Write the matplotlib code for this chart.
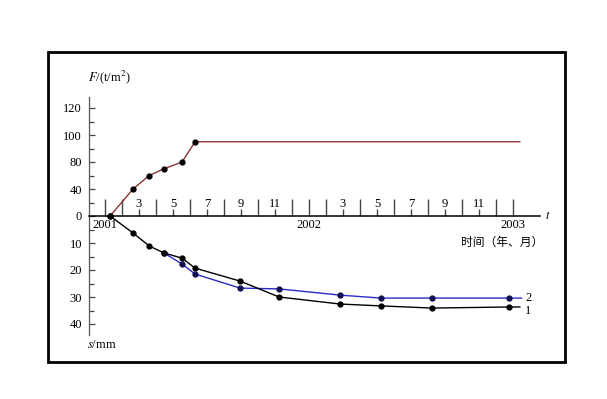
import numpy as np
import matplotlib
matplotlib.use('Agg')
import matplotlib.pyplot as plt
from matplotlib.patches import Rectangle

plt.rcParams['font.family'] = ['Liberation Serif', 'DejaVu Sans']
plt.rcParams['mathtext.fontset'] = 'stix'

# months counted from Jan 2001 (0 = Jan 2001, 12 = Jan 2002, 24 = Jan 2003)
# load F (t/m2)
f_month = [0.3, 1.65, 2.6, 3.47, 4.53, 5.3, 24.4]
f_load = [0, 40, 60, 70, 80, 95, 95]

# settlement curve 1 (black)
s1_month = [0.3, 1.65, 2.6, 3.47, 4.53, 5.3, 7.94, 10.24, 13.82, 16.24, 19.24, 23.76, 24.4]
s1_mm = [0, 6.3, 11.1, 13.7, 15.6, 19.3, 24.1, 30.0, 32.6, 33.3, 34.1, 33.7, 33.7]

# settlement curve 2 (blue)
s2_month = [3.47, 4.53, 5.3, 7.94, 10.24, 13.82, 16.24, 19.24, 23.76, 24.5]
s2_mm = [13.7, 17.8, 21.5, 26.7, 27.0, 29.3, 30.4, 30.4, 30.4, 30.4]

# upper axis labels are not evenly spaced: each label gets one equal step
f_labels = [0, 40, 80, 100, 120]
s_labels = [10, 20, 30, 40]
month_labels = [3, 5, 7, 9, 11]
year_labels = ['2001', '2002', '2003']


def f_pos(v):
    # position of a load value on the drawn scale (10 units per label step)
    return np.interp(v, f_labels, np.arange(len(f_labels)) * 10)


fig = plt.figure(figsize=(6.07, 3.99), dpi=100)
ax = fig.add_axes([0, 0, 1, 1])
ax.set_xlim(-105 / 17, (607 - 105) / 17)
ax.set_ylim(-(399 - 216) / 2.7, 216 / 2.7)

# frame around the figure
fig.patches.append(Rectangle((48 / 607, 37 / 399), 517 / 607, 310 / 399,
                             transform=fig.transFigure, fill=False,
                             edgecolor='black', linewidth=2.0))

# y axis (shared: load above, settlement below)
x0 = (89 - 105) / 17
for side in ['top', 'right']:
    ax.spines[side].set_visible(False)
ax.spines['left'].set_position(('data', x0))
ax.spines['left'].set_bounds(-44, 44)
ax.spines['left'].set_color('#555555')
ax.spines['left'].set_linewidth(0.9)
ax.spines['bottom'].set_position(('data', 0))
ax.spines['bottom'].set_bounds(x0, (540 - 105) / 17)
ax.spines['bottom'].set_linewidth(1.1)

yt = list(f_pos(np.array(f_labels))) + [-s for s in s_labels]
ylab = [str(v) for v in f_labels] + [str(v) for v in s_labels]
ax.set_yticks(yt)
ax.set_yticklabels(ylab)
ax.set_yticks([35, 25, 15, 5, -5, -15, -25, -35], minor=True)
ax.tick_params(axis='y', which='major', direction='in', length=4.5, width=0.9,
               color='#444444', labelsize=9, pad=5)
ax.tick_params(axis='y', which='minor', direction='in', length=3.5, width=0.9,
               color='#444444')

# x axis: tall ticks at even months and year starts, short ticks at labelled months
tall = [m for m in range(25) if m % 12 == 0 or m % 2 == 1]
short = [m for m in range(25) if m not in tall]
ax.set_xticks(tall)
ax.set_xticklabels([year_labels[m // 12] if m % 12 == 0 else '' for m in tall])
ax.set_xticks(short, minor=True)
ax.tick_params(axis='x', which='major', direction='in', length=12, width=1.0,
               color='#444444', labelsize=9, pad=2)
ax.tick_params(axis='x', which='minor', direction='in', length=5, width=1.0,
               color='#444444')
for yr in range(2):
    for lab in month_labels:
        ax.text(yr * 12 + lab - 1, 4.6, str(lab), ha='center', va='center', fontsize=9)

# curves
ax.plot(f_month, f_pos(np.array(f_load)), color='#8a3535', linewidth=1.0,
        marker='o', markersize=3.5, markerfacecolor='black', markeredgecolor='black',
        markevery=list(range(len(f_month) - 1)))
ax.plot(s2_month, [-v for v in s2_mm], color='#2a2ac8', linewidth=1.0,
        marker='o', markersize=3.5, markerfacecolor='#101050', markeredgecolor='#101050',
        markevery=list(range(len(s2_month) - 1)))
ax.plot(s1_month, [-v for v in s1_mm], color='black', linewidth=1.0,
        marker='o', markersize=3.5, markerfacecolor='black', markeredgecolor='black',
        markevery=list(range(len(s1_month) - 1)))

# labels
ax.text(x0 - 0.05, (216 - 77) / 2.7, r'$F$/(t/m$^2$)', fontsize=9, va='center', ha='left')
ax.text(x0 - 0.1, -(345 - 216) / 2.7, r'$s$/mm', fontsize=9, va='center', ha='left')
ax.text((545 - 105) / 17, 0, r'$t$', fontsize=9, va='center', ha='left')
ax.text((461 - 105) / 17, -(242 - 216) / 2.7, '时间（年、月）', fontsize=8.5,
        ha='left', va='center', family=['Noto Sans CJK SC', 'DejaVu Sans'])
ax.text((525 - 105) / 17, -30.4, '2', fontsize=9, va='center', ha='left')
ax.text((525 - 105) / 17, -35.0, '1', fontsize=9, va='center', ha='left')

fig.savefig('out.png', dpi=100)
